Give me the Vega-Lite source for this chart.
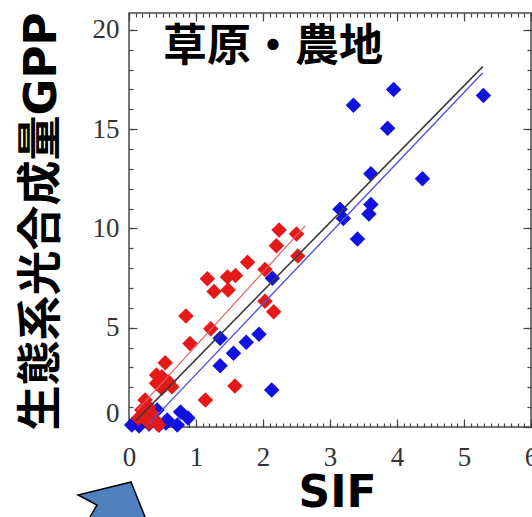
{
  "$schema": "https://vega.github.io/schema/vega-lite/v6.json",
  "width": 402,
  "height": 414,
  "autosize": {"type": "none"},
  "padding": {"left": 129, "top": 13, "right": 1, "bottom": 90},
  "background": "white",
  "config": {
    "view": {"stroke": "#4a4a4a", "strokeWidth": 1.5},
    "axis": {"domain": false, "grid": false, "tickColor": "#444444", "tickWidth": 1.2}
  },
  "datasets": {
    "sites": [
      {"land": "cropland", "sif": 0.04, "gpp": 0.1},
      {"land": "cropland", "sif": 0.15, "gpp": 0.05},
      {"land": "cropland", "sif": 0.3, "gpp": 0.15},
      {"land": "cropland", "sif": 0.42, "gpp": 0.86},
      {"land": "cropland", "sif": 0.45, "gpp": 0.1},
      {"land": "cropland", "sif": 0.55, "gpp": 0.2},
      {"land": "cropland", "sif": 0.57, "gpp": 0.35},
      {"land": "cropland", "sif": 0.72, "gpp": 0.1},
      {"land": "cropland", "sif": 0.77, "gpp": 0.75},
      {"land": "cropland", "sif": 0.88, "gpp": 0.45},
      {"land": "grassland", "sif": 2.24, "gpp": 9.92},
      {"land": "grassland", "sif": 2.5, "gpp": 9.72},
      {"land": "grassland", "sif": 2.2, "gpp": 9.13},
      {"land": "grassland", "sif": 2.52, "gpp": 8.61},
      {"land": "grassland", "sif": 1.77, "gpp": 8.3},
      {"land": "grassland", "sif": 2.03, "gpp": 7.93},
      {"land": "grassland", "sif": 1.17, "gpp": 7.47},
      {"land": "grassland", "sif": 1.47, "gpp": 7.56},
      {"land": "grassland", "sif": 1.59, "gpp": 7.63},
      {"land": "grassland", "sif": 1.27, "gpp": 6.82},
      {"land": "grassland", "sif": 1.48, "gpp": 6.9},
      {"land": "grassland", "sif": 2.03, "gpp": 6.33},
      {"land": "grassland", "sif": 2.16, "gpp": 5.81},
      {"land": "grassland", "sif": 0.85, "gpp": 5.59},
      {"land": "grassland", "sif": 1.22, "gpp": 4.95},
      {"land": "grassland", "sif": 0.91, "gpp": 4.2},
      {"land": "grassland", "sif": 1.58, "gpp": 2.07},
      {"land": "grassland", "sif": 1.14, "gpp": 1.36},
      {"land": "grassland", "sif": 0.54, "gpp": 3.24},
      {"land": "grassland", "sif": 0.41, "gpp": 2.62},
      {"land": "grassland", "sif": 0.49, "gpp": 2.53},
      {"land": "grassland", "sif": 0.59, "gpp": 2.28},
      {"land": "grassland", "sif": 0.41, "gpp": 2.2},
      {"land": "grassland", "sif": 0.49, "gpp": 1.95},
      {"land": "grassland", "sif": 0.64, "gpp": 2.03},
      {"land": "grassland", "sif": 0.24, "gpp": 1.36},
      {"land": "grassland", "sif": 0.29, "gpp": 1.02},
      {"land": "grassland", "sif": 0.19, "gpp": 0.86},
      {"land": "grassland", "sif": 0.34, "gpp": 0.69},
      {"land": "grassland", "sif": 0.24, "gpp": 0.44},
      {"land": "grassland", "sif": 0.39, "gpp": 0.35},
      {"land": "grassland", "sif": 0.14, "gpp": 0.44},
      {"land": "grassland", "sif": 0.44, "gpp": 0.1},
      {"land": "grassland", "sif": 0.3, "gpp": 0.2},
      {"land": "cropland", "sif": 3.35, "gpp": 16.2},
      {"land": "cropland", "sif": 3.95, "gpp": 17.0},
      {"land": "cropland", "sif": 5.29, "gpp": 16.7},
      {"land": "cropland", "sif": 3.86, "gpp": 15.05},
      {"land": "cropland", "sif": 3.61, "gpp": 12.75},
      {"land": "cropland", "sif": 4.38, "gpp": 12.5},
      {"land": "cropland", "sif": 3.15, "gpp": 10.97},
      {"land": "cropland", "sif": 3.2, "gpp": 10.5},
      {"land": "cropland", "sif": 3.61, "gpp": 11.2},
      {"land": "cropland", "sif": 3.58, "gpp": 10.73},
      {"land": "cropland", "sif": 3.41, "gpp": 9.47},
      {"land": "cropland", "sif": 2.14, "gpp": 7.49},
      {"land": "cropland", "sif": 1.36, "gpp": 4.47},
      {"land": "cropland", "sif": 1.75, "gpp": 4.27},
      {"land": "cropland", "sif": 1.94, "gpp": 4.67},
      {"land": "cropland", "sif": 1.56, "gpp": 3.72},
      {"land": "cropland", "sif": 1.36, "gpp": 3.09},
      {"land": "cropland", "sif": 2.13, "gpp": 1.86}
    ],
    "fits": [
      {"fit": "all", "sif": 0.1, "gpp": 0.31},
      {"fit": "all", "sif": 5.28, "gpp": 18.15},
      {"fit": "grassland", "sif": 0.12, "gpp": 0.84},
      {"fit": "grassland", "sif": 2.63, "gpp": 10.13},
      {"fit": "cropland", "sif": 0.3, "gpp": 0.17},
      {"fit": "cropland", "sif": 5.28, "gpp": 17.84}
    ],
    "labels": [
      {"label": "草原・農地", "sif": 2.15, "gpp": 19.1}
    ],
    "pointer": [
      {"sif": 0.03, "gpp": -2.77}
    ]
  },
  "resolve": {"axis": {"x": "independent", "y": "independent"}},
  "layer": [
    {
      "data": {"name": "sites"},
      "mark": {"type": "point", "shape": "diamond", "filled": true, "size": 240, "opacity": 1},
      "encoding": {
        "x": {
          "field": "sif", "type": "quantitative",
          "scale": {"domain": [0, 6], "nice": false, "zero": false},
          "axis": {
            "orient": "bottom", "ticks": false, "values": [0, 1, 2, 3, 4, 5, 6],
            "labelFont": "Liberation Serif", "labelFontSize": 27, "labelColor": "#333333",
            "labelPadding": 17, "labelFlush": false,
            "title": "SIF", "titleFont": "DejaVu Sans", "titleFontSize": 44, "titleFontWeight": "bold",
            "titleColor": "#000000", "titleX": 208, "titleY": 79, "titleAlign": "center", "titleBaseline": "alphabetic"
          }
        },
        "y": {
          "field": "gpp", "type": "quantitative",
          "scale": {"domain": [0, 20.85], "nice": false, "zero": false},
          "axis": {
            "orient": "left", "ticks": false, "values": [0, 5, 10, 15, 20],
            "labelFont": "Liberation Serif", "labelFontSize": 27, "labelColor": "#333333",
            "labelPadding": 10, "labelFlush": true,
            "title": "生態系光合成量GPP", "titleFont": "DejaVu Sans, Noto Sans CJK JP", "titleFontSize": 45,
            "titleFontWeight": "bold", "titleColor": "#000000", "titleAngle": -90,
            "titleX": -88, "titleY": 208, "titleAlign": "center", "titleBaseline": "middle"
          }
        },
        "color": {
          "field": "land", "type": "nominal",
          "scale": {"domain": ["grassland", "cropland"], "range": ["#e61919", "#1212e0"]},
          "legend": null
        }
      }
    },
    {
      "data": {"name": "fits"},
      "transform": [{"filter": "datum.fit === 'all'"}],
      "mark": {"type": "line", "color": "#3c3c3c", "strokeWidth": 1.6},
      "encoding": {
        "x": {"field": "sif", "type": "quantitative", "axis": {"orient": "bottom", "labels": false, "title": null, "values": [0, 1, 2, 3, 4, 5, 6], "tickSize": -8}},
        "y": {"field": "gpp", "type": "quantitative", "axis": {"orient": "left", "labels": false, "title": null, "values": [0, 5, 10, 15, 20], "tickSize": -8}}
      }
    },
    {
      "data": {"name": "fits"},
      "transform": [{"filter": "datum.fit === 'grassland'"}],
      "mark": {"type": "line", "color": "#e36060", "strokeWidth": 1.2},
      "encoding": {
        "x": {"field": "sif", "type": "quantitative", "axis": {"orient": "bottom", "labels": false, "title": null, "tickCount": 60, "tickSize": -4}},
        "y": {"field": "gpp", "type": "quantitative", "axis": {"orient": "left", "labels": false, "title": null, "tickCount": 21, "tickSize": -4}}
      }
    },
    {
      "data": {"name": "fits"},
      "transform": [{"filter": "datum.fit === 'cropland'"}],
      "mark": {"type": "line", "color": "#5252e6", "strokeWidth": 1.4},
      "encoding": {
        "x": {"field": "sif", "type": "quantitative", "axis": {"orient": "top", "labels": false, "title": null, "values": [0, 1, 2, 3, 4, 5, 6], "tickSize": -8}},
        "y": {"field": "gpp", "type": "quantitative", "axis": {"orient": "right", "labels": false, "title": null, "values": [0, 5, 10, 15, 20], "tickSize": -8}}
      }
    },
    {
      "data": {"name": "labels"},
      "mark": {"type": "text", "font": "Noto Sans CJK JP", "fontSize": 44, "fontWeight": "bold", "color": "#000000", "align": "center", "baseline": "middle"},
      "encoding": {
        "text": {"field": "label"},
        "x": {"field": "sif", "type": "quantitative", "axis": {"orient": "top", "labels": false, "title": null, "tickCount": 60, "tickSize": -4}},
        "y": {"field": "gpp", "type": "quantitative", "axis": {"orient": "right", "labels": false, "title": null, "tickCount": 21, "tickSize": -4}}
      }
    },
    {
      "data": {"name": "pointer"},
      "mark": {
        "type": "point", "filled": true, "size": 400, "opacity": 1,
        "shape": "M0,0 L-5.3,1.3 L-3.4,2.3 L-4.74,4.6 L1.84,4.6 Z",
        "fill": "#4f7fbd", "stroke": "#000000", "strokeWidth": 1.5
      },
      "encoding": {
        "x": {"field": "sif", "type": "quantitative", "axis": null},
        "y": {"field": "gpp", "type": "quantitative", "axis": null}
      }
    }
  ]
}
